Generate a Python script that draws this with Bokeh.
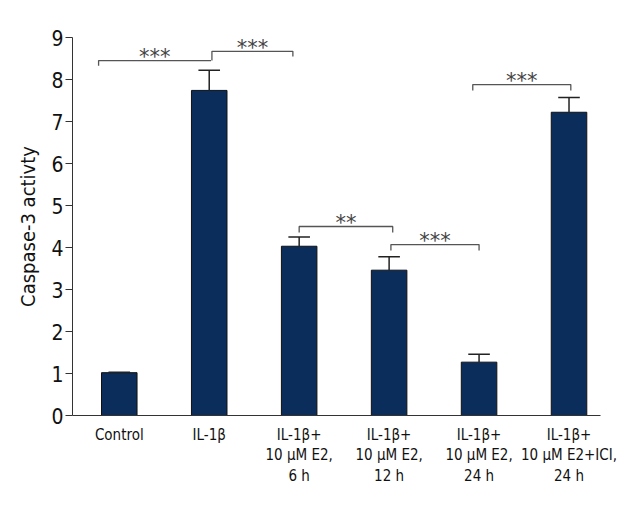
from bokeh.plotting import figure
from bokeh.models import Range1d, FixedTicker
from bokeh.core.properties import value
from bokeh.embed import file_html
from bokeh.resources import INLINE

# ---- data ----
groups = ["Control", "IL-1β", "IL-1β+\n10 μM E2,\n6 h", "IL-1β+\n10 μM E2,\n12 h",
          "IL-1β+\n10 μM E2,\n24 h", "IL-1β+\n10 μM E2+ICI,\n24 h"]
means = [1.02, 7.74, 4.03, 3.46, 1.27, 7.22]
errors = [0.01, 0.48, 0.22, 0.32, 0.19, 0.35]

# significance comparisons (bracket start, end, height, drops, label)
sig_x0 = [-0.23, 1.03, 2.0, 3.02, 3.93]
sig_x1 = [1.02, 1.93, 3.04, 4.0, 5.02]
sig_y = [8.45, 8.67, 4.50, 4.07, 7.88]
sig_drop_left = [0.12, 0.22, 0.14, 0.14, 0.14]
sig_drop_right = [0.0, 0.12, 0.14, 0.14, 0.14]
sig_text = ["***", "***", "**", "***", "***"]

FONT = "'DejaVu Sans Condensed', 'Liberation Sans Narrow', sans-serif"
xs = list(range(len(groups)))

p = figure(width=632, height=512, x_range=Range1d(-0.52, 5.35), y_range=Range1d(0, 9),
           output_backend="svg", toolbar_location=None,
           min_border_left=72, min_border_right=32, min_border_top=37, min_border_bottom=97)
p.outline_line_color = None
p.xgrid.grid_line_color = None
p.ygrid.grid_line_color = None
p.background_fill_color = "white"

# bars
p.vbar(x=xs, top=means, width=0.395, bottom=0, fill_color="#0b2d5b", line_color="#111111", line_width=1)

# error bars (upper only)
tops = [m + e for m, e in zip(means, errors)]
p.segment(x0=xs, y0=means, x1=xs, y1=tops, line_color="#222222", line_width=1.5)
p.segment(x0=[x - 0.12 for x in xs], y0=tops, x1=[x + 0.12 for x in xs], y1=tops,
          line_color="#222222", line_width=1.5)

# significance brackets
bx, by = [], []
for a, b, y, dl, dr in zip(sig_x0, sig_x1, sig_y, sig_drop_left, sig_drop_right):
    bx.append([a, a, b, b])
    by.append([y - dl, y, y, y - dr])
p.multi_line(xs=bx, ys=by, line_color="#555555", line_width=1.3)
p.text(x=[(a + b) / 2 for a, b in zip(sig_x0, sig_x1)], y=[y + 0.08 for y in sig_y], text=sig_text,
       text_align="center", text_baseline="alphabetic", text_font_size="21px",
       text_color="#444444", text_font=value("DejaVu Sans"))

# axes
p.yaxis.ticker = FixedTicker(ticks=list(range(10)))
p.yaxis.axis_label = "Caspase-3 activty"
p.yaxis.axis_label_text_font = FONT
p.yaxis.axis_label_text_font_style = "normal"
p.yaxis.axis_label_text_font_size = "20px"
p.yaxis.axis_label_text_color = "#111111"
p.yaxis.axis_label_standoff = 8
p.yaxis.major_label_text_font = FONT
p.yaxis.major_label_text_font_size = "21px"
p.yaxis.major_label_text_color = "#111111"
p.yaxis.major_tick_out = 7
p.yaxis.major_tick_in = 0
p.yaxis.minor_tick_line_color = None
p.yaxis.axis_line_color = "#333333"
p.yaxis.major_tick_line_color = "#333333"
p.yaxis.major_label_standoff = 2

p.xaxis.ticker = FixedTicker(ticks=xs)
p.xaxis.major_label_overrides = {i: g for i, g in zip(xs, groups)}
p.xaxis.major_label_text_font = FONT
p.xaxis.major_label_text_font_size = "15px"
p.xaxis.major_label_text_line_height = 1.15
p.xaxis.major_label_text_color = "#111111"
p.xaxis.major_tick_line_color = None
p.xaxis.minor_tick_line_color = None
p.xaxis.axis_line_color = "#333333"
p.xaxis.major_label_standoff = 4

open("out.html", "w").write(file_html(p, INLINE))
